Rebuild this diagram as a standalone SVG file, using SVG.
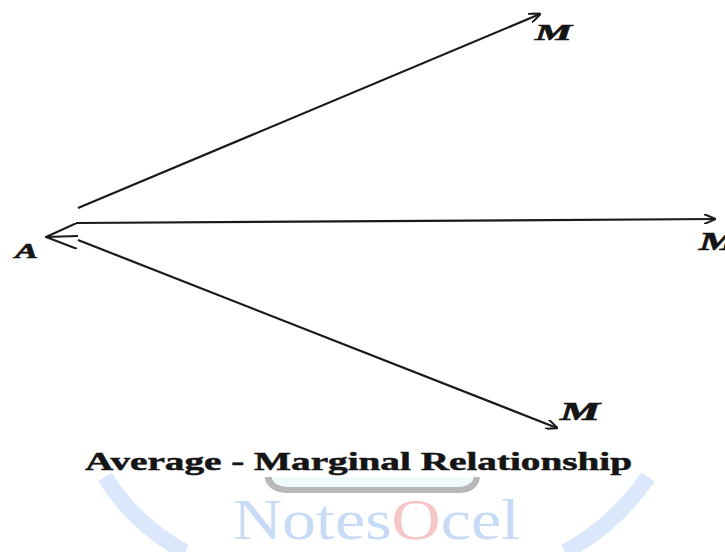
<svg xmlns="http://www.w3.org/2000/svg" width="725" height="552" viewBox="0 0 725 552">
<style>
.ln{stroke:#1a1a1a;stroke-width:2.2;fill:none}
.lbl{font-family:"Liberation Serif",serif;font-weight:bold;font-style:italic;fill:#151515;stroke:#151515;stroke-width:0.7}
.ttl{font-family:"Liberation Serif",serif;font-weight:bold;fill:#151515;stroke:#151515;stroke-width:0.5}
.wm{font-family:"Liberation Serif",serif;font-size:57px}
</style>
<defs>
<marker id="ah" viewBox="0 0 12 10" refX="11" refY="5" markerWidth="12" markerHeight="10" markerUnits="userSpaceOnUse" orient="auto">
<path d="M0,0 L12,5 L0,10" fill="none" stroke="#1a1a1a" stroke-width="2"/>
</marker>
<marker id="ah2" viewBox="0 0 32 26" refX="31" refY="13" markerWidth="32" markerHeight="26" markerUnits="userSpaceOnUse" orient="auto">
<path d="M0,0 L31,13 L0,26" fill="none" stroke="#1a1a1a" stroke-width="2"/>
</marker>
</defs>
<rect width="725" height="552" fill="#ffffff"/>
<g id="watermark">
<path d="M105,477 Q135,525 185,552" stroke="#dbe8fb" stroke-width="16" fill="none"/>
<path d="M648,477 Q615,525 565,552" stroke="#dbe8fb" stroke-width="16" fill="none"/>
<path d="M265,477 L265,480 Q270,492 285,493 L460,493 Q478,492 480,477 Z" fill="#b8b8b8"/>
<path d="M272,477 L272,479 Q276,487 288,487 L458,487 Q472,486 474,477 Z" fill="#eefbfd"/>
<text class="wm" x="233" y="539" fill="#c8dbf6" textLength="287" lengthAdjust="spacingAndGlyphs">Notes<tspan fill="#f5c6c6">O</tspan>cel</text>
</g>
<g id="connectors">
<line class="ln" x1="78" y1="208" x2="540" y2="14" marker-end="url(#ah)"/>
<line class="ln" x1="76" y1="223" x2="715" y2="219" marker-end="url(#ah)"/>
<line class="ln" x1="78" y1="240" x2="557" y2="428" marker-end="url(#ah)"/>
<line class="ln" x1="78" y1="236" x2="46" y2="237" marker-end="url(#ah2)"/>
</g>
<g id="node-M1"><text class="lbl" x="535" y="40" font-size="24" textLength="37" lengthAdjust="spacingAndGlyphs">M</text></g>
<g id="node-M2"><text class="lbl" x="699" y="250" font-size="25" textLength="38" lengthAdjust="spacingAndGlyphs">M</text></g>
<g id="node-M3"><text class="lbl" x="560" y="420" font-size="26" textLength="40" lengthAdjust="spacingAndGlyphs">M</text></g>
<g id="node-A"><text class="lbl" x="15" y="258" font-size="22" textLength="23" lengthAdjust="spacingAndGlyphs">A</text></g>
<g id="title"><text class="ttl" x="85" y="470" font-size="25" textLength="547" lengthAdjust="spacingAndGlyphs">Average - Marginal Relationship</text></g>
</svg>
